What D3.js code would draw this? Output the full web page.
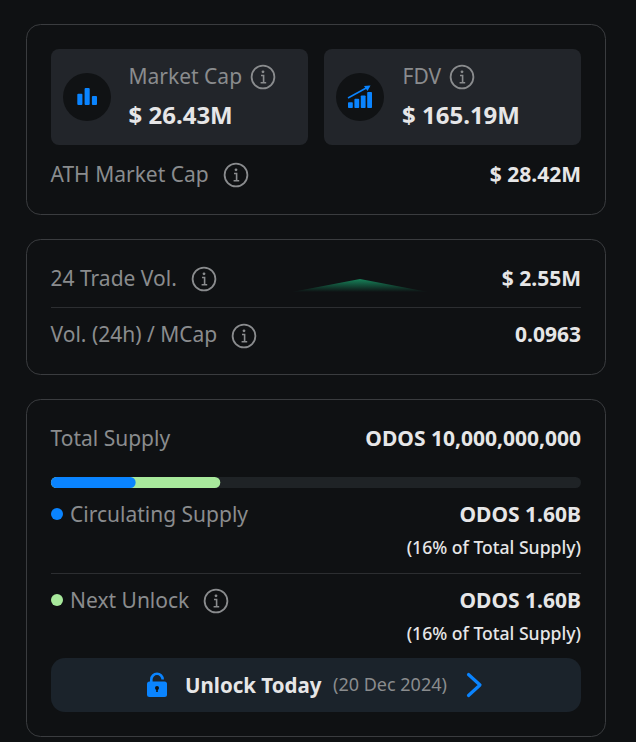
<!DOCTYPE html>
<html><head><meta charset="utf-8">
<script src="https://cdn.jsdelivr.net/npm/d3@7"></script>
<style>html,body{margin:0;padding:0;background:#0f1113}svg{display:block}text{font-family:"Noto Sans",sans-serif}</style>
</head><body><svg id="c" width="636" height="742"></svg>
<script>
const supplyLabels=["Circulating Supply","Next Unlock"];
const supplyShares=[16,16];
const supplyColors=["#0a84ff","#a8e99c"];
const sparkValues=[0,1,0];
const mcapBars=[2,3,1.6];
const fdvBars=[1,1.6,2.2,2.8];

const svg=d3.select("#c");
const GREY="#8a8c8e",WHITE="#e6e6e7",BLUE="#0a84ff",LINE="#3a3c3f";
function T(x,y,s,size,fill,weight,anchor){return svg.append("text").attr("x",x).attr("y",y).attr("font-size",size).attr("fill",fill).attr("font-weight",weight||400).attr("text-anchor",anchor||"start").text(s);}
function R(x,y,w,h,r,fill,stroke){return svg.append("rect").attr("x",x).attr("y",y).attr("width",w).attr("height",h).attr("rx",r).attr("fill",fill).attr("stroke",stroke||"none");}
function info(cx,cy){
  svg.append("circle").attr("cx",cx).attr("cy",cy).attr("r",11.4).attr("fill","none").attr("stroke",GREY).attr("stroke-width",1.8);
  svg.append("circle").attr("cx",cx).attr("cy",cy-5.2).attr("r",1.4).attr("fill",GREY);
  svg.append("path").attr("d",`M${cx-2} ${cy-1.5}H${cx+.6}V${cy+5.5}M${cx-2.4} ${cy+5.8}H${cx+3.2}`).attr("fill","none").attr("stroke",GREY).attr("stroke-width",1.6);
}
// panels
R(26.5,24.5,579,190,14,"none",LINE);
R(26.5,239.5,579,135,14,"none",LINE);
R(26.5,399.5,579,337,14,"none",LINE);
// cards
R(51,49,257,96,8,"#22252a");
R(324,49,257,96,8,"#22252a");
svg.append("circle").attr("cx",87).attr("cy",97).attr("r",24).attr("fill","#101214");
svg.append("circle").attr("cx",360).attr("cy",97).attr("r",24).attr("fill","#101214");
// icon bars
const mx=d3.scaleBand().domain(d3.range(mcapBars.length)).range([77.3,97]).paddingInner(.3);
const my=d3.scaleLinear().domain([0,3]).range([105,88]);
svg.selectAll(".mb").data(mcapBars).join("rect").attr("x",(d,i)=>mx(i)).attr("y",d=>my(d)).attr("width",mx.bandwidth()).attr("height",d=>my(0)-my(d)).attr("rx",1).attr("fill",BLUE);
const fx=d3.scaleBand().domain(d3.range(fdvBars.length)).range([348,372]).paddingInner(.25);
const fy=d3.scaleLinear().domain([0,2.8]).range([108,92]);
svg.selectAll(".fb").data(fdvBars).join("rect").attr("x",(d,i)=>fx(i)).attr("y",d=>fy(d)).attr("width",fx.bandwidth()).attr("height",d=>fy(0)-fy(d)).attr("rx",.8).attr("fill",BLUE);
svg.append("path").attr("d","M348 98L369 86.5").attr("stroke",BLUE).attr("stroke-width",1.5).attr("fill","none");
svg.append("path").attr("d","M364 86L370.5 85.5L367.5 91Z").attr("fill",BLUE);
// card text
T(128.5,84,"Market Cap",21,GREY);info(263,77);
T(128.5,124,"$ 26.43M",24,WHITE,700);
T(402.5,84,"FDV",21,GREY);info(462,77);
T(402,124,"$ 165.19M",24,WHITE,700);
T(50.5,182,"ATH Market Cap",21,GREY);info(236,175);
T(581,182,"$ 28.42M",21,WHITE,700,"end");
// trade
T(50.5,286,"24 Trade Vol.",21,GREY);info(204,279);
T(581,286,"$ 2.55M",21,WHITE,700,"end");
svg.append("line").attr("x1",51).attr("x2",581).attr("y1",307.5).attr("y2",307.5).attr("stroke","#2c2e31");
T(50.5,342,"Vol. (24h) / MCap",21,GREY);info(244,336);
T(581,342,"0.0963",21,WHITE,700,"end");
// sparkline
const defs=svg.append("defs");
const g=defs.append("linearGradient").attr("id","sg").attr("x1",0).attr("x2",0).attr("y1",0).attr("y2",1);
g.append("stop").attr("offset",0).attr("stop-color","#16835a");
g.append("stop").attr("offset",1).attr("stop-color","#16835a").attr("stop-opacity",0);
const sx=d3.scalePoint().domain(d3.range(sparkValues.length)).range([292,428]);
const sy=d3.scaleLinear().domain([0,1]).range([292,279]);
svg.append("path").attr("d",d3.area().x((d,i)=>sx(i)).y0(sy(0)).y1(d=>sy(d))(sparkValues)).attr("fill","url(#sg)");
// supply
T(50.5,446,"Total Supply",21,GREY);
T(581,446,"ODOS 10,000,000,000",21,WHITE,700,"end");
const bx=d3.scaleLinear().domain([0,100]).range([51,580]);
R(51,477,530,11,5.5,"#1f2326");
const cum=d3.cumsum(supplyShares);
[1,0].forEach(i=>R(bx(0),477,bx(cum[i])-bx(0),11,5.5,supplyColors[i]));
// legend rows
const rows=[{y:522,dy:554},{y:608,dy:640}];
supplyLabels.forEach((l,i)=>{
  svg.append("circle").attr("cx",57).attr("cy",rows[i].y-8).attr("r",6).attr("fill",supplyColors[i]);
  T(70,rows[i].y,l,21,GREY);
  T(581,rows[i].y,"ODOS 1.60B",21,WHITE,700,"end");
  T(581,rows[i].dy,`(${supplyShares[i]}% of Total Supply)`,17.6,WHITE,500,"end");
});
info(216,601);
svg.append("line").attr("x1",51).attr("x2",581).attr("y1",573.5).attr("y2",573.5).attr("stroke","#2c2e31");
// button
R(51,658,530,54,14,"#1b232b");
svg.append("rect").attr("x",147).attr("y",681.5).attr("width",20).attr("height",15.5).attr("rx",2.5).attr("fill",BLUE);
svg.append("path").attr("d","M151.3 682V679.5a5.7 5.7 0 0 1 11.4 0").attr("fill","none").attr("stroke",BLUE).attr("stroke-width",2.6);
svg.append("circle").attr("cx",157).attr("cy",688).attr("r",2).attr("fill","#101214");
svg.append("rect").attr("x",156.2).attr("y",688).attr("width",1.6).attr("height",4).attr("fill","#101214");
T(185,693,"Unlock Today",20.5,WHITE,700);
T(333,691,"(20 Dec 2024)",18,GREY);
svg.append("path").attr("d","M468.5 674.5L480 685L468.5 695.5").attr("fill","none").attr("stroke",BLUE).attr("stroke-width",3.2).attr("stroke-linecap","round").attr("stroke-linejoin","round");
</script></body></html>
